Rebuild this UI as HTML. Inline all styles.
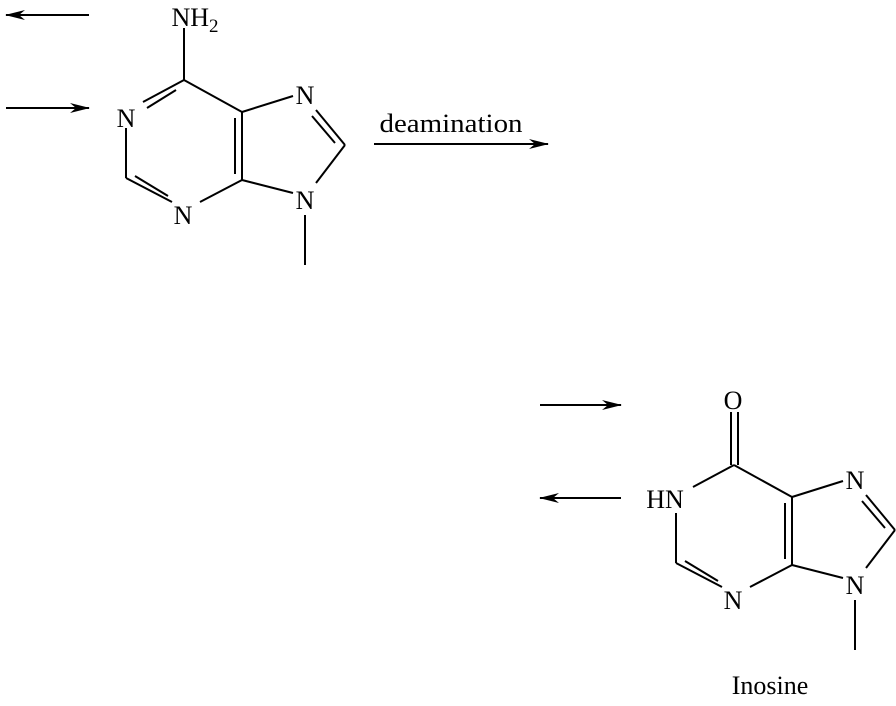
<!DOCTYPE html>
<html><head><meta charset="utf-8"><style>html,body{margin:0;padding:0;background:#fff}</style></head>
<body>
<svg width="896" height="701" viewBox="0 0 896 701" xmlns="http://www.w3.org/2000/svg" font-family="Liberation Serif, serif" font-size="26">
<defs>
<marker id="ah" markerWidth="20" markerHeight="10" refX="19" refY="5" orient="auto" markerUnits="userSpaceOnUse">
<path d="M0,0 L20,5 L0,10 L6,5 Z" fill="#000"/>
</marker>
</defs>
<g stroke="#000" stroke-width="2" fill="none">
<line x1="89" y1="15" x2="6" y2="15" marker-end="url(#ah)"/>
<line x1="6" y1="108" x2="89" y2="108" marker-end="url(#ah)"/>
<line x1="374" y1="144" x2="548" y2="144" marker-end="url(#ah)"/>
<line x1="540" y1="405" x2="621" y2="405" marker-end="url(#ah)"/>
<line x1="621" y1="498" x2="540" y2="498" marker-end="url(#ah)"/>
</g>
<g id="mol" stroke="#000" stroke-width="2" fill="none">
<line x1="184" y1="80" x2="143" y2="102"/>
<line x1="184" y1="80" x2="242" y2="112"/>
<line x1="242" y1="112" x2="242" y2="180"/>
<line x1="235" y1="118" x2="235" y2="174"/>
<line x1="242" y1="112" x2="293" y2="96"/>
<line x1="316" y1="110" x2="345" y2="145"/>
<line x1="312" y1="116" x2="335" y2="143"/>
<line x1="345" y1="145" x2="316" y2="183"/>
<line x1="242" y1="180" x2="293" y2="193"/>
<line x1="305" y1="215" x2="305" y2="265"/>
<line x1="242" y1="180" x2="200" y2="202"/>
<line x1="172" y1="202" x2="126" y2="178"/>
<line x1="168" y1="196" x2="135" y2="176"/>
<line x1="126" y1="178" x2="126" y2="128"/>
</g>
<g stroke="#000" stroke-width="2" fill="none">
<line x1="176" y1="90" x2="147" y2="108"/>
<line x1="184" y1="28" x2="184" y2="80"/>
</g>
<use href="#mol" transform="translate(550,385)"/>
<g stroke="#000" stroke-width="2" fill="none">
<line x1="731" y1="412" x2="731" y2="465"/>
<line x1="738" y1="412" x2="738" y2="465"/>
</g>
<g fill="#000" text-anchor="middle">
<text x="195" y="26">NH<tspan font-size="19" dy="6">2</tspan></text>
<text x="126" y="127">N</text>
<text x="305" y="104">N</text>
<text x="305" y="209">N</text>
<text x="183" y="224">N</text>
<text x="733" y="409">O</text>
<text x="665" y="508">HN</text>
<text x="855" y="489">N</text>
<text x="855" y="594">N</text>
<text x="733" y="609">N</text>
<text x="451" y="132" textLength="143" lengthAdjust="spacingAndGlyphs">deamination</text>
<text x="770" y="694">Inosine</text>
</g>
</svg>
</body></html>
